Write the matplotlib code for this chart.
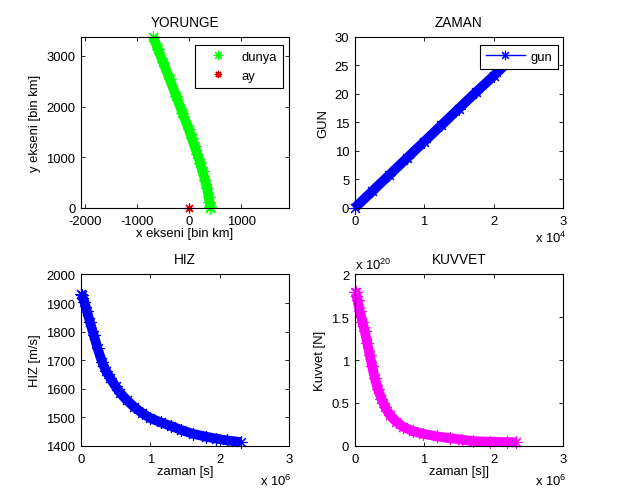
import matplotlib
matplotlib.use("Agg")
import matplotlib.pyplot as plt
import numpy as np

plt.rcParams["font.family"] = ["Liberation Sans", "DejaVu Sans"]
plt.rcParams["font.size"] = 9.4
plt.rcParams["axes.titlesize"] = 9.8
plt.rcParams["axes.unicode_minus"] = False
plt.rcParams["mathtext.fontset"] = "custom"
plt.rcParams["mathtext.rm"] = "Liberation Sans"

# --- data ---
# YORUNGE (orbit), thousand km
dunya_x = [405, 402, 390, 376, 345, 303, 260, 211, 160, 105, 50, -6, -130, -251, -375, -501, -600, -690]
dunya_y = [0, 26, 120, 225, 390, 557, 720, 889, 1055, 1219, 1385, 1551, 1880, 2213, 2545, 2877, 3130, 3380]
ay_x = [0]
ay_y = [0]

# ZAMAN: x = t/100, y = days
zaman_x = [0, 2500, 5000, 7500, 10000, 12500, 15000, 17500, 20000, 23000]
zaman_gun = [0, 2.9, 5.8, 8.7, 11.6, 14.5, 17.4, 20.3, 23.1, 26.6]

# HIZ: speed (m/s) vs time (s)
hiz_t = [0.0, 0.015e6, 0.05e6, 0.087e6, 0.13e6, 0.184e6, 0.24e6, 0.304e6, 0.36e6, 0.425e6,
         0.5e6, 0.57e6, 0.66e6, 0.763e6, 0.88e6, 1.0e6, 1.15e6, 1.3e6, 1.45e6, 1.61e6,
         1.8e6, 1.95e6, 2.1e6, 2.31e6]
hiz_v = [1932, 1928, 1905, 1872, 1835, 1789, 1742, 1695, 1663, 1636,
         1608, 1584, 1560, 1537, 1515, 1497, 1482, 1469, 1455, 1442,
         1432, 1425, 1419, 1413]

# KUVVET: force (N) vs time (s)
kuv_t = [0.0, 0.014e6, 0.04e6, 0.072e6, 0.11e6, 0.144e6, 0.18e6, 0.216e6, 0.25e6, 0.289e6,
         0.335e6, 0.385e6, 0.44e6, 0.505e6, 0.6e6, 0.7e6, 0.84e6, 0.986e6, 1.18e6, 1.37e6,
         1.55e6, 1.71e6, 1.95e6, 2.19e6, 2.33e6]
kuv_f = np.array([1.80, 1.79, 1.70, 1.57, 1.45, 1.34, 1.20, 1.06, 0.93, 0.79,
                  0.66, 0.55, 0.45, 0.36, 0.28, 0.22, 0.17, 0.14, 0.11, 0.09,
                  0.07, 0.055, 0.048, 0.043, 0.04]) * 1e20

STAR = (8, 2, 0)
BAND_LW = 7
MS = 9


def style(ax):
    ax.tick_params(direction="in", top=True, right=True, length=3, width=0.6, pad=4)
    ax.tick_params(axis="x", pad=5)
    for s in ax.spines.values():
        s.set_linewidth(0.8)


def band(ax, x, y, color, label=None, ls="none"):
    ax.plot(x, y, "-", color=color, lw=BAND_LW, solid_capstyle="butt", clip_on=False)
    return ax.plot(x, y, linestyle=ls, marker=STAR, color=color, ms=MS, mew=0.8,
                   clip_on=False, label=label)


fig = plt.figure(figsize=(6.22, 5.02), dpi=100)
ax1 = fig.add_axes([0.13, 0.5838, 0.3347, 0.3412])
ax2 = fig.add_axes([0.5703, 0.5838, 0.3347, 0.3412])
ax3 = fig.add_axes([0.13, 0.11, 0.3347, 0.3412])
ax4 = fig.add_axes([0.5703, 0.11, 0.3347, 0.3412])

# --- YORUNGE ---
band(ax1, dunya_x, dunya_y, "#00ff00", label="dunya")
ax1.plot(ay_x, ay_y, linestyle="none", marker=STAR, color="#dd0000", ms=7, mew=0.9,
         clip_on=False, label="ay")
ax1.set_xlim(-2080, 1920)
ax1.set_ylim(0, 3380)
ax1.set_xticks([-2000, -1000, 0, 1000])
ax1.set_yticks([0, 1000, 2000, 3000])
ax1.set_title("YORUNGE", pad=8)
ax1.set_xlabel("x ekseni [bin km]", labelpad=0)
ax1.set_ylabel("y ekseni [bin km]")
leg = ax1.legend(loc="upper right", bbox_to_anchor=(0.971, 0.953), borderaxespad=0,
                 fancybox=False, framealpha=1, edgecolor="black", handlelength=2.6,
                 handletextpad=0.5, labelspacing=0.55, borderpad=0.45, markerscale=0.75)
leg.get_frame().set_linewidth(0.8)
style(ax1)

# --- ZAMAN ---
ax2.plot(zaman_x, zaman_gun, "-", color="#0000ff", lw=BAND_LW, solid_capstyle="butt", clip_on=False)
ax2.plot(zaman_x, zaman_gun, "-", marker=STAR, color="#0000ff", ms=MS, mew=0.8, lw=1,
         clip_on=False, label="gun")
ax2.set_xlim(0, 30000)
ax2.set_ylim(0, 30)
ax2.set_xticks([0, 10000, 20000, 30000])
ax2.set_xticklabels(["0", "1", "2", "3"])
ax2.set_yticks([0, 5, 10, 15, 20, 25, 30])
ax2.set_title("ZAMAN", pad=8)
ax2.set_ylabel("GUN")
leg = ax2.legend(loc="upper right", bbox_to_anchor=(0.976, 0.953), borderaxespad=0,
                 fancybox=False, framealpha=1, edgecolor="black", handlelength=3.0,
                 handletextpad=0.4, borderpad=0.45, markerscale=0.75)
leg.get_frame().set_linewidth(0.8)
leg.set_zorder(10)
ax2.text(1.015, -0.17, r"x 10$^{4}$", transform=ax2.transAxes, ha="right", va="center")
style(ax2)

# --- HIZ ---
band(ax3, hiz_t, hiz_v, "#0000ff")
ax3.set_xlim(0, 3e6)
ax3.set_ylim(1400, 2000)
ax3.set_xticks([0, 1e6, 2e6, 3e6])
ax3.set_xticklabels(["0", "1", "2", "3"])
ax3.set_yticks(range(1400, 2001, 100))
ax3.set_title("HIZ", pad=8)
ax3.set_xlabel("zaman [s]", labelpad=0)
ax3.set_ylabel("HIZ [m/s]")
ax3.text(1.01, -0.2, r"x 10$^{6}$", transform=ax3.transAxes, ha="right", va="center")
style(ax3)

# --- KUVVET ---
band(ax4, kuv_t, kuv_f, "#ff00ff")
ax4.set_xlim(0, 3e6)
ax4.set_ylim(0, 2e20)
ax4.set_xticks([0, 1e6, 2e6, 3e6])
ax4.set_xticklabels(["0", "1", "2", "3"])
ax4.set_yticks([0, 0.5e20, 1e20, 1.5e20, 2e20])
ax4.set_yticklabels(["0", "0.5", "1", "1.5", "2"])
ax4.set_title("KUVVET", pad=8)
ax4.set_xlabel("zaman [s]]", labelpad=0)
ax4.set_ylabel("Kuvvet [N]")
ax4.text(1.015, -0.2, r"x 10$^{6}$", transform=ax4.transAxes, ha="right", va="center")
ax4.text(0.0, 1.06, r"x 10$^{20}$", transform=ax4.transAxes, ha="left", va="center")
style(ax4)

fig.savefig("out.png", dpi=100, facecolor="white")
